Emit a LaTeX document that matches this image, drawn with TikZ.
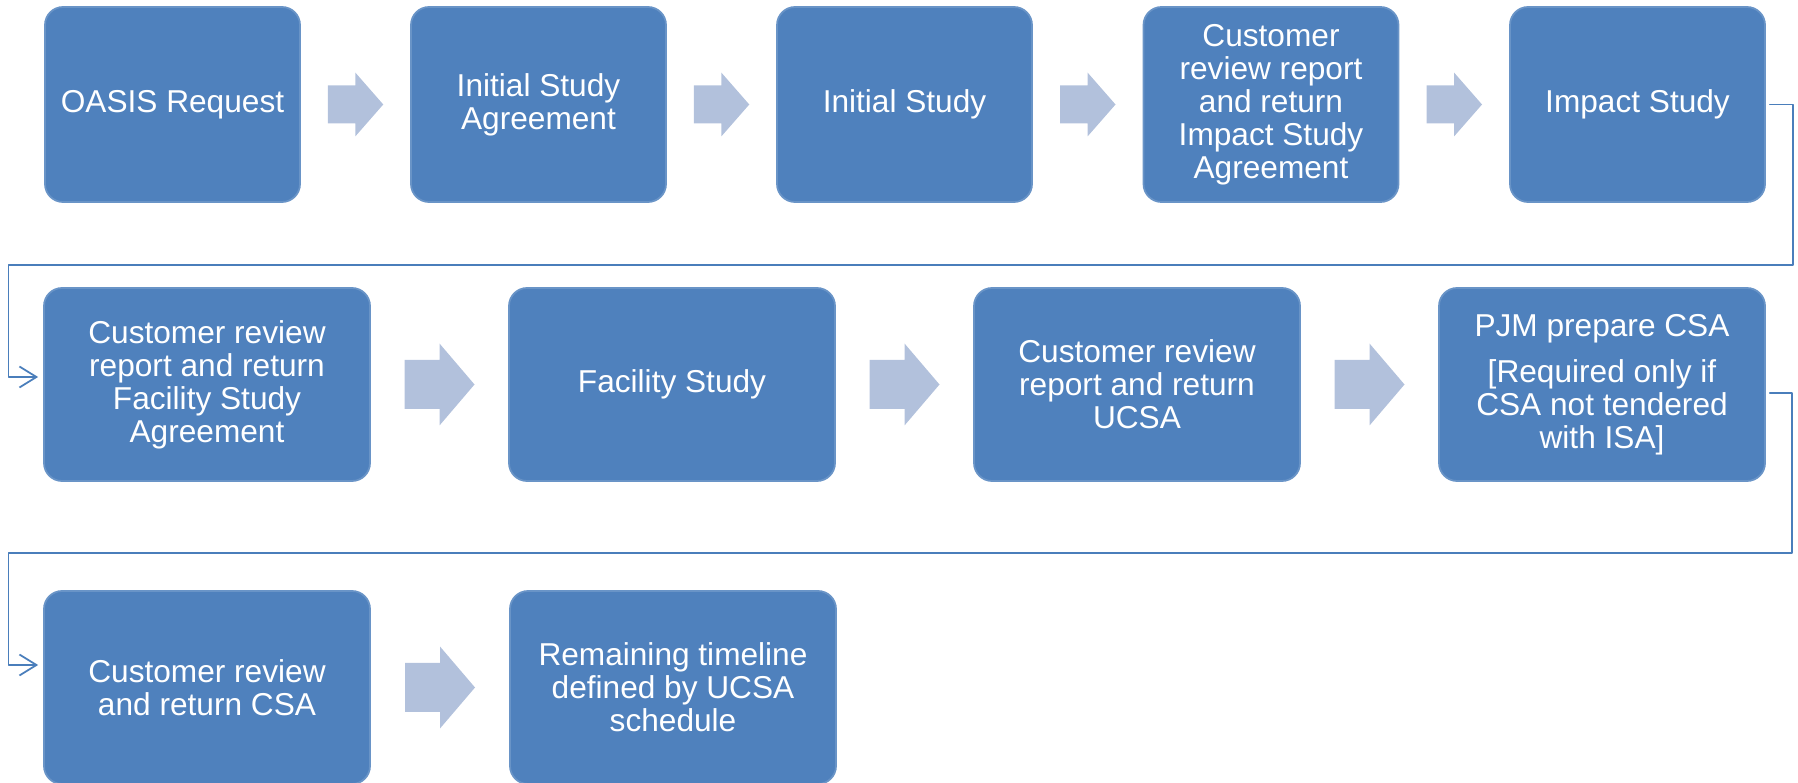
\documentclass[tikz,border=0pt]{standalone}
\usepackage{fontspec}
\setmainfont{Liberation Sans}
\usetikzlibrary{arrows.meta, calc}
\definecolor{boxblue}{HTML}{4F81BD}
\definecolor{arrowblue}{HTML}{B2C1DC}
\definecolor{lineblue}{HTML}{4A7EBB}
% block arrow: centre, length, shaft, head, head length
\newcommand{\blockarrow}[5]{%
	\fill[arrowblue, shift={#1}]
	(-#2/2,-#3/2) -- (#2/2-#5,-#3/2) -- (#2/2-#5,-#4/2) -- (#2/2,0)
	-- (#2/2-#5,#4/2) -- (#2/2-#5,#3/2) -- (-#2/2,#3/2) -- cycle;}

\begin{document}
\begin{tikzpicture}[>={Straight Barb[length=1.7mm, width=2.1mm]}, line cap=round, line join=round,
	font=\fontsize{9}{9.4}\selectfont,
	stage/.style={fill=boxblue, draw=boxblue!85!white, line width=0.5pt,
		rounded corners=0.18cm, text=white, align=center, inner sep=2pt},
	rowone/.style={stage, minimum width=2.55cm, minimum height=1.95cm},
	rowtwo/.style={stage, minimum width=3.26cm, minimum height=1.93cm},
	link/.style={lineblue, line width=0.5pt}]
\useasboundingbox (0,0) rectangle (17.98,7.82);
%========================
% Row 1
%========================
\node[rowone] (b1) at (1.725,6.775) {OASIS Request};
\node[rowone] (b2) at (5.385,6.775) {Initial Study\\Agreement};
\node[rowone] (b3) at (9.045,6.775) {Initial Study};
\node[rowone] (b4) at (12.71,6.775) {Customer\\review report\\and return\\Impact Study\\Agreement};
\node[rowone] (b5) at (16.375,6.775) {Impact Study};
\foreach \a/\b in {b1/b2, b2/b3, b3/b4, b4/b5}
	\blockarrow{($(\a.east)!0.5!(\b.west)$)}{0.555}{0.38}{0.64}{0.28};

%========================
% Row 2
%========================
\node[rowtwo] (b6) at (2.07,3.975) {Customer review\\report and return\\Facility Study\\Agreement};
\node[rowtwo] (b7) at (6.72,3.975) {Facility Study};
\node[rowtwo] (b8) at (11.37,3.975) {Customer review\\report and return\\UCSA};
\node[rowtwo] (b9) at (16.02,3.975) {PJM prepare CSA\\[3.7pt]{[}Required only if\\CSA not tendered\\with ISA{]}};
\foreach \a/\b in {b6/b7, b7/b8, b8/b9}
	\blockarrow{($(\a.east)!0.5!(\b.west)$)}{0.70}{0.49}{0.82}{0.35};

%========================
% Row 3
%========================
\node[rowtwo] (b10) at (2.07,0.945) {Customer review\\and return CSA};
\node[rowtwo] (b11) at (6.73,0.945) {Remaining timeline\\defined by UCSA\\schedule};
\blockarrow{($(b10.east)!0.5!(b11.west)$)}{0.70}{0.49}{0.82}{0.35};

% row links
\coordinate (turn1) at (0.085,5.17);
\coordinate (turn2) at (0.086,2.29);
\draw[link, ->, shorten <=0.04cm, shorten >=0.05cm]
	(b5.east) -- ++(0.27,0) |- (turn1) |- ([yshift=0.075cm]b6.west);
\draw[link, ->, shorten <=0.04cm, shorten >=0.05cm]
	([yshift=-0.085cm]b9.east) -- ++(0.26,0) |- (turn2) |- ([yshift=0.225cm]b10.west);
\end{tikzpicture}
\end{document}
